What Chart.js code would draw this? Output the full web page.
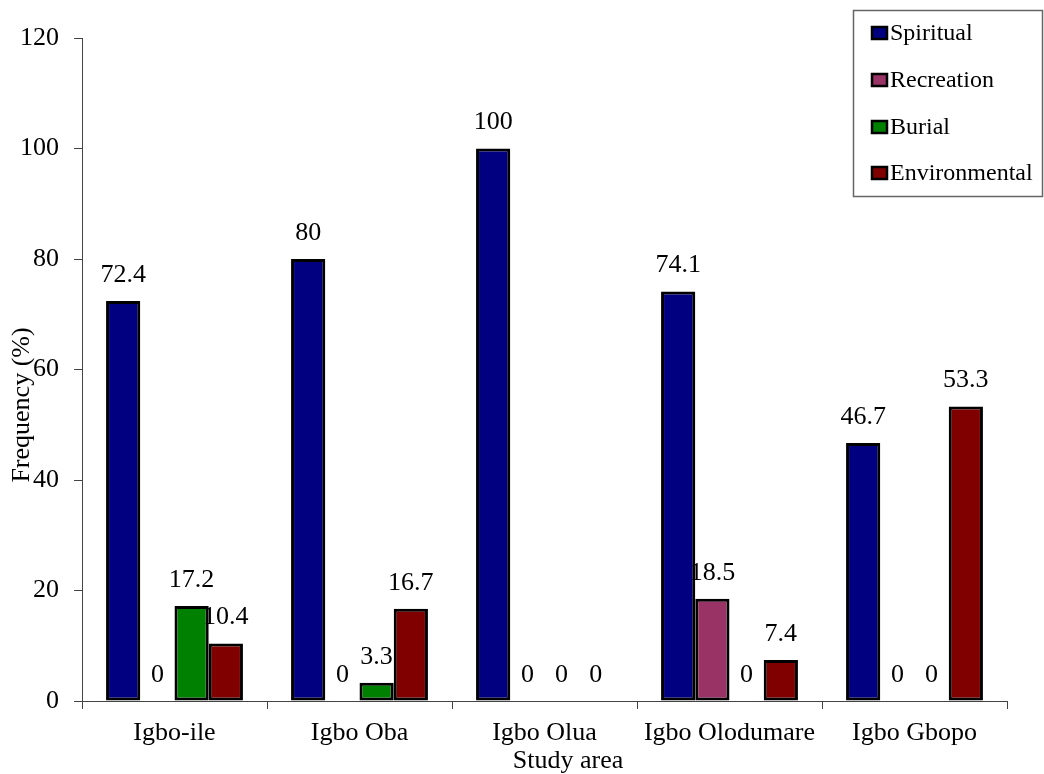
<!DOCTYPE html>
<html>
<head>
<meta charset="utf-8">
<script src="https://cdn.jsdelivr.net/npm/chart.js@4/dist/chart.umd.min.js"></script>
<style>
  html, body { margin: 0; padding: 0; background: #fff; }
  #wrap { width: 1044px; height: 774px; }
</style>
</head>
<body>
<div id="wrap"><canvas id="c" width="1044" height="774"></canvas></div>
<script>
// Study areas and the share (%) of each perceived value of the groves
const categories = ['Igbo-ile', 'Igbo Oba', 'Igbo Olua', 'Igbo Olodumare', 'Igbo Gbopo'];
const spiritual = [72.4, 80, 100, 74.1, 46.7];
const recreation = [0, 0, 0, 18.5, 0];
const burial = [17.2, 3.3, 0, 0, 0];
const environmental = [10.4, 16.7, 0, 7.4, 53.3];
const seriesNames = ['Spiritual', 'Recreation', 'Burial', 'Environmental'];
const yTicks = [0, 20, 40, 60, 80, 100, 120];

const SERIF = '"Liberation Serif", "Times New Roman", serif';
const colors = ['#000080', '#993366', '#008000', '#800000'];
const values = [spiritual, recreation, burial, environmental];

// Value labels sit under the bars, so neighbouring bars may cover them
const valueLabels = {
  id: 'valueLabels',
  beforeDatasetsDraw(chart) {
    const ctx = chart.ctx;
    ctx.save();
    ctx.font = '26px ' + SERIF;
    ctx.fillStyle = '#000';
    ctx.textAlign = 'center';
    ctx.textBaseline = 'middle';
    chart.data.datasets.forEach((ds, i) => {
      const meta = chart.getDatasetMeta(i);
      meta.data.forEach((bar, j) => {
        ctx.fillText(String(ds.data[j]), bar.x, bar.y - 26);
      });
    });
    ctx.restore();
  }
};

// Axis titles and the boxed legend
const decorations = {
  id: 'decorations',
  afterDraw(chart) {
    const ctx = chart.ctx;
    ctx.save();
    ctx.fillStyle = '#000';
    ctx.font = '26px ' + SERIF;
    ctx.textAlign = 'center';
    ctx.textBaseline = 'middle';
    ctx.fillText('Study area', 568, 761);
    ctx.save();
    ctx.translate(22, 405);
    ctx.rotate(-Math.PI / 2);
    ctx.fillText('Frequency (%)', 0, 0);
    ctx.restore();

    // legend
    ctx.strokeStyle = '#666';
    ctx.lineWidth = 1.5;
    ctx.strokeRect(853.5, 10.5, 189, 186);
    ctx.font = '24px ' + SERIF;
    ctx.textAlign = 'left';
    const rows = [33, 80, 127, 173];
    chart.data.datasets.forEach((ds, i) => {
      const y = rows[i];
      ctx.fillStyle = ds.backgroundColor;
      ctx.fillRect(872, y - 6, 15, 12);
      ctx.strokeStyle = '#000';
      ctx.lineWidth = 2.5;
      ctx.strokeRect(872, y - 6, 15, 12);
      ctx.fillStyle = '#000';
      ctx.fillText(ds.label, 890, y + 1);
    });
    ctx.restore();
  }
};

new Chart(document.getElementById('c'), {
  type: 'bar',
  data: {
    labels: categories,
    datasets: seriesNames.map((name, i) => ({
      label: name,
      data: values[i],
      backgroundColor: colors[i],
      borderColor: '#000',
      borderWidth: c => (c.raw === 0 ? 0 : 3),
      borderSkipped: false,
      categoryPercentage: 0.74,
      barPercentage: 1.0
    }))
  },
  options: {
    responsive: false,
    animation: false,
    layout: { padding: { top: 38, right: 37, bottom: 0, left: 0 } },
    plugins: {
      legend: { display: false },
      tooltip: { enabled: false },
      title: { display: false }
    },
    scales: {
      x: {
        grid: {
          display: true,
          offset: true,
          drawOnChartArea: false,
          drawTicks: true,
          tickLength: 8,
          color: '#444'
        },
        border: { display: true, color: '#444', width: 1 },
        ticks: {
          font: { family: SERIF, size: 26 },
          color: '#000',
          padding: 9,
          maxRotation: 0,
          autoSkip: false
        },
        afterFit(scale) { scale.height = 73; }
      },
      y: {
        min: 0,
        max: 120,
        afterBuildTicks(scale) { scale.ticks = yTicks.map(v => ({ value: v })); },
        grid: {
          display: true,
          drawOnChartArea: false,
          drawTicks: true,
          tickLength: 8,
          color: '#444'
        },
        border: { display: true, color: '#444', width: 1 },
        ticks: {
          font: { family: SERIF, size: 26 },
          color: '#000',
          padding: 15
        },
        afterFit(scale) { scale.width = 82; }
      }
    }
  },
  plugins: [valueLabels, decorations]
});
</script>
</body>
</html>
